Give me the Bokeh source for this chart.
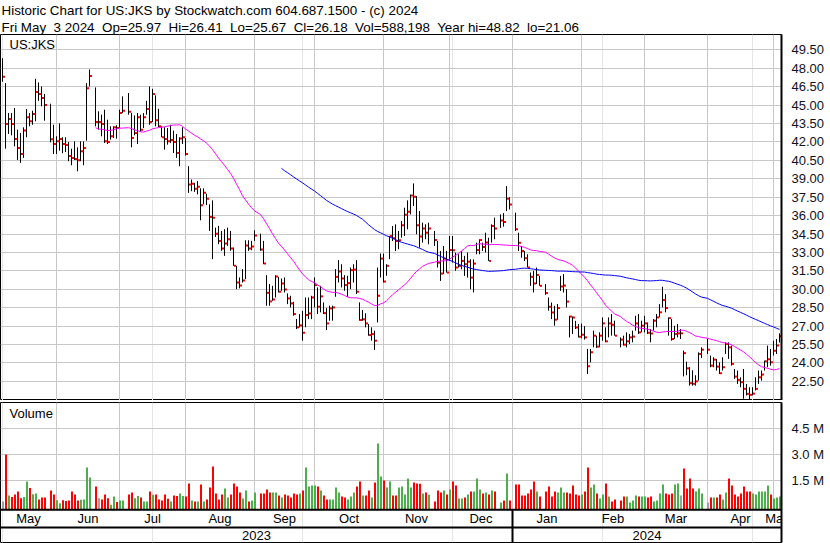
import numpy as np
import pandas as pd
from bokeh.plotting import figure
from bokeh.layouts import column
from bokeh.models import (Range1d, FixedTicker, Label, Title, Grid, PrintfTickFormatter)
from bokeh.embed import file_html
from bokeh.resources import INLINE
from bokeh.core.properties import value

FONT = "Liberation Sans"

HEADER_1 = "Historic Chart for US:JKS by Stockwatch.com 604.687.1500 - (c) 2024"
HEADER_2 = "Fri May  3 2024  Op=25.97  Hi=26.41  Lo=25.67  Cl=26.18  Vol=588,198  Year hi=48.82  lo=21.06"
SYMBOL = "US:JKS"

START = "2023-05-08"
END = "2024-05-03"
HOLIDAYS = ["2023-05-29", "2023-06-19", "2023-07-04", "2023-09-04", "2023-11-23",
            "2023-12-25", "2024-01-01", "2024-01-15", "2024-02-19", "2024-03-29"]

HIGH = [48.82, 46.79, 44.35, 44.35, 44.76, 43.00, 42.73, 43.19, 44.68, 44.35, 44.54, 47.14, 46.84, 46.52, 45.90,
        45.11, 43.40, 42.46, 43.51, 42.38, 42.38, 42.00, 41.45, 42.05, 41.56, 42.05, 42.05, 46.79, 47.90,
        46.44, 44.49, 44.22, 44.62, 43.81, 43.27, 43.27, 43.35, 44.62, 45.71,
        45.98, 44.35, 44.16, 44.35, 44.22, 44.35, 45.35, 46.52, 46.33, 45.79, 44.70, 43.27, 43.19, 43.13, 43.40,
        42.92, 42.65, 42.38, 43.19, 42.32, 40.02, 38.94, 38.67, 38.81, 38.22, 38.22, 37.78, 36.92, 37.24, 35.02,
        35.16, 34.75, 34.89, 35.02, 34.75, 33.40, 31.91, 30.96, 31.64, 33.99, 33.99, 33.94, 34.80,
        34.53, 33.94, 31.15, 30.42, 30.28, 31.15, 31.01, 30.88, 30.96, 29.66, 29.47, 28.98, 27.58, 27.98, 28.25,
        29.33, 29.33, 29.47, 30.96, 30.15, 30.28, 28.93, 28.47, 28.66, 28.66, 31.64, 32.37, 32.04, 31.15, 31.10,
        31.77, 32.04, 32.37, 28.93, 28.31, 28.04, 27.17, 26.90, 26.63, 31.77, 32.91, 32.91, 32.04, 34.34, 35.15,
        35.29, 34.75, 35.56, 36.64, 37.24, 37.72, 38.62, 37.59, 36.37, 35.42, 35.29, 35.42,
        34.75, 33.93, 33.12, 33.53, 33.12, 34.34, 34.34, 32.99, 32.85, 33.12, 32.72, 32.99, 32.44, 32.44, 33.80,
        34.07, 33.80, 34.61, 34.20, 35.29, 35.83,
        36.10, 36.20, 38.40, 37.50,
        36.24, 34.61, 33.53, 33.12, 32.85, 31.36, 31.50, 31.77, 31.09,
        30.42, 29.33, 28.92, 28.65, 28.79, 31.09, 31.23, 30.01, 27.84, 27.78, 27.43, 27.17, 27.20, 27.00, 25.14,
        25.14, 26.63, 26.22, 26.49, 27.71, 26.90, 27.71, 27.98, 27.44,
        26.08, 26.22, 26.49, 26.36, 26.63, 27.84, 27.98, 27.44, 27.84, 27.30, 26.76, 27.57, 27.98, 28.79, 30.20,
        29.60, 27.71, 27.57, 27.03, 27.17, 26.76, 25.00, 24.10, 23.65, 23.40, 23.00, 24.86, 25.27,
        25.95, 24.60, 24.46, 24.33, 24.05, 24.46, 25.68, 25.68, 25.41, 23.51, 23.38, 22.83, 23.51, 22.29, 22.02,
        22.02, 22.83, 23.38, 23.38, 24.19, 25.41, 25.14, 25.81, 25.95, 26.41]

LOW = [46.90, 41.45, 42.65, 42.54, 41.64, 40.53, 40.29, 40.70, 42.38, 43.27, 43.40, 43.68, 45.35, 44.90, 43.73,
       41.97, 41.02, 41.02, 41.29, 41.08, 41.18, 40.43, 40.10, 40.53, 39.61, 40.43, 40.10, 42.10, 46.52,
       43.27, 43.00, 42.46, 41.92, 41.83, 42.19, 42.32, 42.27, 43.13, 44.35,
       44.22, 41.56, 42.54, 41.83, 42.81, 43.13, 44.22, 43.40, 43.62, 43.27, 43.19, 42.38, 41.37, 41.78, 41.92,
       41.10, 40.70, 40.02, 41.83, 40.89, 37.85, 37.99, 37.93, 37.73, 35.62, 36.92, 36.86, 34.75, 32.45, 34.26,
       33.67, 33.13, 32.72, 33.53, 33.13, 31.91, 30.01, 30.07, 30.55, 30.82, 33.13, 33.18, 33.94,
       33.13, 32.04, 28.66, 28.66, 29.06, 29.33, 29.74, 29.88, 29.74, 28.79, 28.52, 27.85, 26.76, 26.90, 25.81,
       26.90, 27.57, 27.57, 28.52, 27.98, 28.12, 27.98, 26.68, 27.44, 27.44, 29.39, 30.55, 30.15, 29.88, 29.39,
       30.01, 30.55, 29.61, 27.44, 27.44, 26.90, 26.22, 25.81, 25.06, 27.30, 30.96, 30.55, 31.10, 32.45, 33.93,
       33.12, 33.26, 34.20, 34.34, 34.88, 36.10, 36.78, 34.48, 33.39, 33.80, 34.07, 33.66,
       33.53, 31.77, 30.68, 31.23, 31.36, 32.31, 32.17, 31.50, 31.77, 31.63, 31.09, 30.95, 30.00, 29.74, 32.85,
       32.85, 33.12, 32.99, 32.31, 33.80, 34.07,
       35.00, 35.10, 36.37, 36.50,
       34.75, 33.12, 32.57, 32.30, 31.77, 30.28, 29.74, 30.42, 30.28,
       29.55, 28.25, 27.57, 27.03, 27.52, 29.87, 29.74, 28.52, 26.08, 26.35, 26.76, 26.08, 26.00, 25.90, 23.10,
       24.05, 25.27, 25.22, 25.27, 25.81, 25.68, 26.08, 26.22, 26.22,
       25.27, 25.41, 25.27, 25.54, 25.68, 26.63, 26.36, 26.49, 26.49, 26.36, 25.68, 26.63, 26.90, 27.71, 28.52,
       28.12, 26.22, 25.81, 25.95, 26.08, 25.95, 22.90, 23.00, 22.15, 22.15, 22.15, 22.56, 24.40,
       24.73, 23.65, 23.65, 23.38, 23.10, 23.38, 24.73, 24.33, 23.78, 22.70, 22.29, 22.02, 21.08, 21.35, 21.06,
       21.35, 21.75, 22.29, 22.56, 23.38, 23.65, 23.78, 24.60, 24.73, 25.67]

CLOSE = [47.30, 43.46, 43.87, 43.46, 42.24, 41.51, 41.02, 42.94, 44.00, 43.68, 44.27, 46.06, 45.90, 45.57, 45.00,
         42.21, 41.83, 42.05, 42.24, 41.83, 41.75, 40.86, 40.70, 40.60, 40.50, 41.24, 41.51, 46.38, 47.36,
         43.62, 43.62, 43.46, 42.05, 42.00, 42.46, 43.19, 43.13, 44.35, 44.54,
         44.45, 42.32, 42.73, 44.00, 43.00, 44.00, 44.68, 43.62, 45.90, 43.76, 43.27, 42.38, 42.24, 42.05, 42.16,
         42.00, 41.10, 42.27, 42.38, 41.02, 38.53, 38.60, 38.18, 38.35, 36.84, 37.87, 37.38, 35.89, 35.83, 34.53,
         33.94, 33.32, 33.72, 34.07, 33.32, 31.91, 30.55, 30.31, 30.72, 33.56, 33.32, 33.48, 34.37,
         33.23, 32.10, 29.71, 29.01, 29.17, 31.04, 29.80, 30.47, 29.98, 29.25, 28.85, 27.98, 26.90, 27.06, 26.46,
         27.90, 28.03, 29.33, 30.34, 28.58, 29.42, 28.06, 27.22, 28.44, 28.52, 31.01, 31.45, 30.88, 30.34, 30.50,
         31.56, 31.60, 29.80, 27.49, 27.55, 27.22, 26.27, 26.35, 25.81, 29.47, 32.50, 30.63, 31.91, 34.34, 34.15,
         33.93, 34.00, 35.21, 36.07, 36.32, 37.64, 37.53, 35.21, 34.29, 34.94, 34.61, 34.94,
         34.01, 32.17, 31.28, 32.50, 31.36, 33.20, 33.17, 31.77, 31.90, 32.31, 32.04, 32.25, 30.95, 32.09, 33.20,
         34.01, 33.45, 33.80, 32.31, 35.15, 34.94,
         35.60, 35.48, 37.38, 36.90,
         34.88, 33.79, 33.12, 32.53, 31.77, 31.01, 30.47, 31.17, 30.28,
         29.69, 28.57, 28.11, 27.52, 28.47, 30.22, 30.30, 29.00, 27.78, 27.70, 26.89, 26.13, 26.30, 26.08, 23.73,
         24.87, 26.22, 25.33, 26.22, 27.22, 25.76, 27.22, 27.11, 26.22,
         25.90, 25.49, 25.76, 26.08, 26.15, 27.22, 26.49, 27.03, 27.22, 26.46, 26.40, 27.44, 27.71, 28.12, 29.12,
         28.47, 27.65, 25.95, 26.35, 26.41, 26.41, 24.80, 23.56, 22.35, 22.30, 22.50, 24.73, 25.08,
         25.08, 23.78, 24.27, 23.70, 23.16, 23.65, 25.54, 25.27, 23.92, 22.89, 22.62, 22.43, 21.89, 21.48, 21.40,
         21.50, 21.89, 22.83, 23.05, 24.13, 24.30, 24.05, 25.00, 25.41, 26.18]

VOLUME_M = [0.30, 3.02, 0.65, 0.56, 0.71, 0.88, 0.50, 0.56, 1.46, 1.08, 0.73, 0.77, 0.42, 0.54, 0.54,
            0.94, 0.71, 0.38, 0.21, 0.38, 0.33, 0.37, 0.88, 0.71, 0.37, 0.40, 0.42, 2.27, 1.69,
            1.17, 0.50, 0.42, 0.71, 0.50, 0.12, 0.60, 0.27, 0.37, 0.37,
            0.71, 0.83, 0.50, 0.62, 0.54, 0.31, 0.31, 0.88, 0.69, 0.71, 0.42, 0.37, 0.71, 0.46, 0.31,
            0.65, 0.62, 0.77, 0.62, 0.60, 1.35, 0.37, 0.31, 0.31, 1.29, 0.31, 0.42, 1.12, 2.33, 0.77,
            0.42, 0.71, 1.06, 0.54, 0.71, 1.35, 1.17, 0.83, 0.48, 0.94, 0.31, 0.37, 0.83,
            0.77, 0.77, 1.00, 0.83, 0.83, 0.83, 0.65, 0.54, 0.71, 0.65, 0.54, 0.77, 0.71, 0.77, 0.94,
            2.27, 1.17, 1.23, 1.23, 1.17, 0.94, 0.65, 0.42, 0.42, 0.42, 1.12, 0.83, 0.60, 0.54, 0.42,
            0.60, 0.83, 1.17, 1.46, 0.65, 0.65, 0.94, 0.54, 1.40, 3.65, 1.75, 1.52, 1.12, 1.46, 0.65,
            0.65, 1.12, 1.17, 0.71, 1.63, 1.12, 1.40, 1.35, 1.33, 0.77, 0.83, 0.70,
            0.31, 0.94, 0.83, 0.94, 0.71, 1.00, 1.46, 1.23, 0.48, 0.48, 0.54, 0.71, 0.88, 0.88, 1.63,
            1.00, 0.77, 0.83, 0.71, 0.94, 0.88,
            0.25, 0.37, 1.92, 0.37,
            1.29, 1.29, 0.65, 0.65, 0.77, 1.00, 1.46, 0.88, 0.60,
            0.88, 1.17, 0.60, 0.88, 0.83, 1.12, 0.83, 0.83, 0.77, 1.23, 0.71, 0.65, 0.71, 0.88, 2.27,
            1.12, 1.29, 0.77, 0.48, 0.71, 1.35, 0.60, 0.31, 0.42,
            0.37, 0.60, 0.60, 0.25, 0.37, 0.65, 0.60, 0.60, 0.60, 0.54, 0.60, 0.31, 0.37, 0.77, 1.29,
            0.77, 0.71, 0.77, 1.29, 1.35, 0.65, 2.21, 1.05, 1.63, 1.05, 0.88, 1.05, 0.77,
            0.25, 0.54, 0.54, 0.54, 0.71, 0.42, 0.83, 1.63, 1.23, 0.71, 0.60, 0.77, 1.17, 0.88, 0.88,
            0.77, 0.71, 0.88, 0.88, 0.88, 1.23, 0.71, 0.48, 0.54, 0.588]

PRICE_TICKS = [22.5, 24.0, 25.5, 27.0, 28.5, 30.0, 31.5, 33.0, 34.5, 36.0, 37.5, 39.0,
               40.5, 42.0, 43.5, 45.0, 46.5, 48.0, 49.5]
VOL_TICKS = [1.5, 3.0, 4.5]
MONTH_LABELS = ["May", "Jun", "Jul", "Aug", "Sep", "Oct", "Nov", "Dec", "Jan", "Feb", "Mar", "Apr", "May"]
MONTH_STARTS = ["2023-06-01", "2023-07-01", "2023-08-01", "2023-09-01", "2023-10-01", "2023-11-01",
                "2023-12-01", "2024-01-01", "2024-02-01", "2024-03-01", "2024-04-01", "2024-05-01"]
YEAR_LABELS = ["2023", "2024"]
MA_SHORT, MA_LONG = 30, 90

# ---- slots: every weekday has a slot, holidays stay empty ----
weekdays = pd.bdate_range(START, END)
trade_mask = ~weekdays.isin(pd.to_datetime(HOLIDAYS))
x = np.arange(len(weekdays))[trade_mask].astype(float)
close = np.array(CLOSE)
assert len(x) == len(CLOSE) == len(HIGH) == len(LOW) == len(VOLUME_M)

ma_s = pd.Series(close).rolling(MA_SHORT).mean().to_numpy()
ma_l = pd.Series(close).rolling(MA_LONG).mean().to_numpy()

chg = np.diff(close, prepend=np.nan)
vol_colors = ["#a0a0a0" if not (c == c) or abs(c) < 1e-9 else ("#ff0000" if c < 0 else "#4cb04a") for c in chg]

bounds = [float(weekdays.searchsorted(pd.Timestamp(d), side="right") - 1) for d in MONTH_STARTS]
X0, X1 = -2.0 / 3.0, 779.0 / 3.0
edges = [X0] + bounds + [X1]
month_centers = [(a + b) / 2 for a, b in zip(edges[:-1], edges[1:])]
year_split = bounds[MONTH_STARTS.index("2024-01-01")]
year_centers = [(X0 + year_split) / 2, (year_split + X1) / 2]

GRID = "#c8c8c8"
HFONT = "13.4px"

# ---------------- price panel ----------------
p = figure(width=830, height=400, x_range=Range1d(X0, X1), y_range=Range1d(20.94, 50.75),
           output_backend="svg", toolbar_location=None, x_axis_location=None, y_axis_location="right",
           min_border_left=0, min_border_right=49, min_border_top=0, min_border_bottom=0)
p.add_layout(Title(text=HEADER_2.replace("  ", "\u00a0 "), align="left", text_font=FONT,
                   text_font_size=HFONT, text_font_style="normal", text_color="black",
                   standoff=0, offset=1), "above")
p.add_layout(Title(text=HEADER_1, align="left", text_font=FONT, text_font_size=HFONT,
                   text_font_style="normal", text_color="black", standoff=0, offset=1), "above")
p.outline_line_color = "black"
p.outline_line_width = 1
p.background_fill_color = "white"
p.border_fill_color = "white"
ya = p.yaxis[0]
ya.ticker = FixedTicker(ticks=PRICE_TICKS)
ya.formatter = PrintfTickFormatter(format="%.2f")
ya.major_tick_line_color = None
ya.minor_tick_line_color = None
ya.axis_line_color = "black"
ya.axis_line_width = 2
ya.major_label_text_font = FONT
ya.major_label_text_font_size = "13px"
ya.major_label_text_color = "#111122"
ya.major_label_standoff = 4
p.ygrid.ticker = FixedTicker(ticks=PRICE_TICKS)
p.ygrid.grid_line_color = GRID
p.add_layout(Grid(dimension=0, ticker=FixedTicker(ticks=bounds), grid_line_color=GRID))

p.segment(x0=x, y0=LOW, x1=x, y1=HIGH, line_color="black", line_width=1)
p.rect(x=x + 0.5, y=close, width=0.67, height=2, height_units="screen",
       fill_color="#ff0000", line_color=None)
p.line(x, ma_s, line_color="#ff00ff", line_width=1)
p.line(x, ma_l, line_color="#0000ff", line_width=1)
p.add_layout(Label(x=X0, y=50.75, x_offset=9, y_offset=-2, text=SYMBOL, text_baseline="top",
                   text_font=FONT, text_font_size="13px", text_color="black"))

# ---------------- volume panel + date rows ----------------
VTOP, VBOT = 6.018, -2.06
VFLOOR = -0.17      # bottom edge of the volume area
ROW_SPLIT = -1.195  # line between month row and year row
v = figure(width=830, height=143, x_range=p.x_range, y_range=Range1d(VBOT, VTOP),
           output_backend="svg", toolbar_location=None, x_axis_location=None, y_axis_location="right",
           min_border_left=0, min_border_right=49, min_border_top=2, min_border_bottom=1)
v.outline_line_color = "black"
v.outline_line_width = 1
v.background_fill_color = "white"
v.border_fill_color = "white"
va = v.yaxis[0]
va.ticker = FixedTicker(ticks=VOL_TICKS)
va.major_label_overrides = {t: f"{t:.1f} M" for t in VOL_TICKS}
va.major_tick_line_color = None
va.minor_tick_line_color = None
va.axis_line_color = "black"
va.axis_line_width = 2
va.major_label_text_font = FONT
va.major_label_text_font_size = "13px"
va.major_label_text_color = "#111122"
va.major_label_standoff = 4
v.ygrid.ticker = FixedTicker(ticks=VOL_TICKS)
v.ygrid.grid_line_color = GRID

v.segment(x0=bounds, y0=[VFLOOR] * len(bounds), x1=bounds, y1=[VTOP] * len(bounds),
          line_color=GRID, line_width=1)
v.vbar(x=x + 0.17, top=VOLUME_M, bottom=VFLOOR, width=0.67, fill_color=vol_colors, line_color=None)
v.segment(x0=[X0, X0], y0=[VFLOOR, ROW_SPLIT], x1=[X1, X1], y1=[VFLOOR, ROW_SPLIT],
          line_color="black", line_width=2)
v.segment(x0=[year_split], y0=[VFLOOR], x1=[year_split], y1=[VBOT], line_color="black", line_width=2)
v.text(x=month_centers, y=[(VFLOOR + ROW_SPLIT) / 2] * len(month_centers), text=MONTH_LABELS,
       text_align="center", text_baseline="middle", text_font=value(FONT),
       text_font_size=value("13px"), text_color="black")
v.text(x=year_centers, y=[(ROW_SPLIT + VBOT) / 2] * 2, text=YEAR_LABELS,
       text_align="center", text_baseline="middle", text_font=value(FONT),
       text_font_size=value("13px"), text_color="black")
v.add_layout(Label(x=X0, y=VTOP, x_offset=9, y_offset=-3, text="Volume", text_baseline="top",
                   text_font=FONT, text_font_size="13px", text_color="black"))

layout = column(p, v, spacing=0, styles={"position": "absolute", "left": "0px", "top": "0px"})
open("out.html", "w").write(file_html(layout, INLINE))
